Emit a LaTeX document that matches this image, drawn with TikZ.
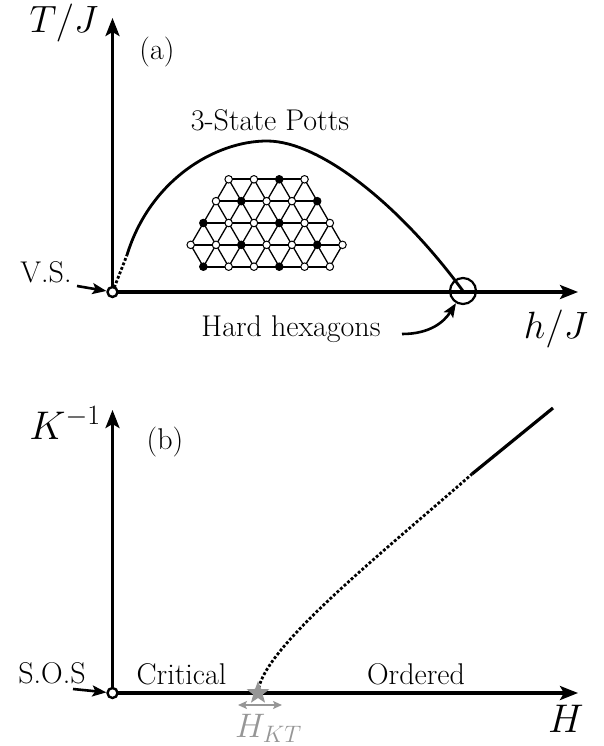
\RequirePackage{fix-cm}
\documentclass[tikz,border=0pt]{standalone}
\usetikzlibrary{arrows.meta,shapes.geometric}
\definecolor{ktgray}{RGB}{150,150,150}
\begin{document}
\begin{tikzpicture}[x=1pt,y=-1pt,
  axis/.style={line width=3.3pt,-{Stealth[length=18pt,width=14pt,inset=4pt]}},
  ptr/.style={line width=2.6pt,-{Stealth[length=14pt,width=11pt,inset=3pt]}},
  txt/.style={inner sep=0pt,anchor=base,font=\fontsize{30}{36}\selectfont},
  mlbl/.style={inner sep=0pt,anchor=base,font=\fontsize{38}{44}\selectfont},
  mlblb/.style={inner sep=0pt,anchor=base,font=\fontsize{40}{46}\selectfont},
  curve/.style={line width=2.8pt},
  dots/.style={line width=2.8pt,dotted},
  origin/.style={circle,draw,line width=2.4pt,minimum size=10pt,inner sep=0pt,fill=white},
  hexpt/.style={circle,draw,line width=2.2pt,minimum size=26pt,inner sep=0pt},
  bond/.style={line width=1.3pt},
  hbond/.style={line width=1.8pt},
  site/.style={circle,draw,line width=1pt,minimum size=7.5pt,inner sep=0pt,fill=white},
  fsite/.style={site,fill=black},
]
\useasboundingbox (0,0) rectangle (604,746);

% ---------------- panel (a) ----------------
\coordinate (Oa) at (112.5,292);
\coordinate (ya) at (112.5,18);
\coordinate (xa) at (578,292);
\draw[axis] (Oa) -- (ya);
\draw[axis] (Oa) -- (xa);

\node[mlbl] (tj) at (64,33) {$T/J$};
\node[mlbl] (hj) at (556,338) {$h/J$};
\node[txt] (la) at (157,60) {(a)};
\node[txt] (potts) at (270,131) {3-State Potts};

% transition line
\coordinate (c0) at (127,255);
\coordinate (peak) at (267,141);
\coordinate (hh) at (463,291);
\draw[dots] (Oa) -- (c0);
\draw[curve] (c0) .. controls (150,180) and (215,141) .. (peak)
                  .. controls (320,141) and (400,205) .. (hh);

% lattice
\foreach \r/\ks in {1/{3,5,7,9},2/{2,4,6,8,10},3/{1,3,5,7,9,11},4/{0,2,4,6,8,10,12},5/{1,3,5,7,9,11}}{
  \foreach \k in \ks {
    \coordinate (s-\r-\k) at ({190.7+12.65*\k},{179.3+21.85*(\r-1)});
  }
}
\draw[hbond] (s-1-3) -- (s-1-9);
\draw[hbond] (s-2-2) -- (s-2-10);
\draw[hbond] (s-3-1) -- (s-3-11);
\draw[hbond] (s-4-0) -- (s-4-12);
\draw[hbond] (s-5-1) -- (s-5-11);
\foreach \r/\n/\ks in {1/2/{3,5,7,9},2/3/{2,4,6,8,10},3/4/{1,3,5,7,9,11},4/5/{2,4,6,8,10}}{
  \foreach \k in \ks {
    \pgfmathtruncatemacro\km{\k-1}
    \pgfmathtruncatemacro\kp{\k+1}
    \draw[bond] (s-\r-\k) -- (s-\n-\km) (s-\r-\k) -- (s-\n-\kp);
  }
}
\draw[bond] (s-4-0) -- (s-5-1) (s-4-12) -- (s-5-11);
\foreach \r/\k in {1/3,1/5,1/9,2/2,2/6,2/8,3/3,3/5,3/9,3/11,4/0,4/2,4/6,4/8,4/12,5/3,5/5,5/9,5/11}{
  \node[site] (n-\r-\k) at (s-\r-\k) {};
}
\foreach \r/\k in {1/7,2/4,2/10,3/1,3/7,4/4,4/10,5/1,5/7}{
  \node[fsite] (n-\r-\k) at (s-\r-\k) {};
}

\node[origin] (oa) at (Oa) {};
\node[hexpt] (hex) at (hh) {};

\node[txt] (vs) at (46,282) {V.S.};
\coordinate (vs0) at (77,286);
\draw[ptr] (vs0) -- (oa);

\node[txt] (hard) at (291,336) {Hard hexagons};
\coordinate (hd0) at (402,334);
\draw[ptr] (hd0) .. controls (430,334) and (444,322) .. (hex.240);

% ---------------- panel (b) ----------------
\coordinate (Ob) at (112.5,693);
\coordinate (yb) at (112.5,410);
\coordinate (xb) at (578,693);
\draw[axis] (Ob) -- (yb);
\draw[axis] (Ob) -- (xb);

\node[mlblb] (kinv) at (65,439) {$K^{-1}$};
\node[mlblb] (hlab) at (566,732) {$H$};
\node[txt] (lb) at (165,449) {(b)};
\node[txt] (crit) at (181.5,684) {Critical};
\node[txt] (ord) at (416,684) {Ordered};

\coordinate (kt) at (258,693);
\coordinate (d1) at (472,474);
\coordinate (d2) at (553,408);
\draw[dots] (kt) .. controls (260,650) and (380,555) .. (d1);
\draw[curve,line width=3.2pt] (d1) -- (d2);

\node[origin] (ob) at (Ob) {};
\node[star,star points=5,star point ratio=2.4,fill=ktgray,minimum size=24pt,inner sep=0pt] (ktstar) at (kt) {};
\coordinate (kl) at (238,705);
\coordinate (kr) at (282,705);
\draw[ktgray,line width=2pt,{Stealth[length=9pt,width=8pt,inset=2pt]}-{Stealth[length=9pt,width=8pt,inset=2pt]}] (kl) -- (kr);
\node[inner sep=0pt,anchor=base,font=\fontsize{34}{40}\selectfont,text=ktgray] (hkt) at (268.5,737) {$H_{KT}$};

\node[txt] (sos) at (52,683) {S.O.S};
\coordinate (sos0) at (73,689);
\draw[ptr] (sos0) -- (ob);
\end{tikzpicture}
\end{document}
